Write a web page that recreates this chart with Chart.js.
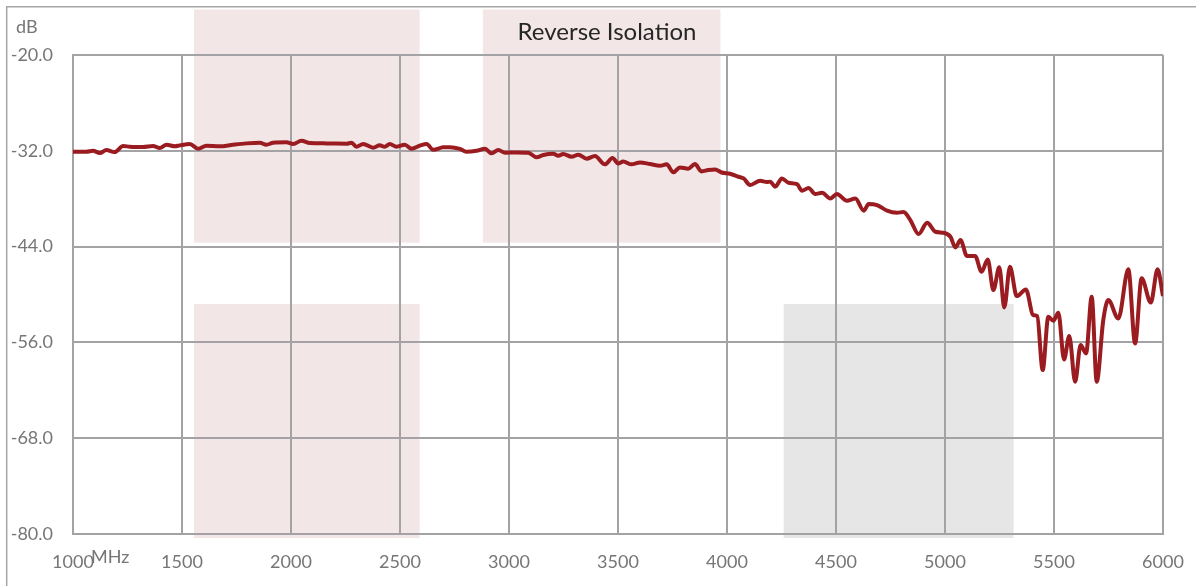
<!DOCTYPE html>
<html>
<head>
<meta charset="utf-8">
<script src="https://cdn.jsdelivr.net/npm/chart.js"></script>
<style>
    html, body { margin: 0; padding: 0; background: #ffffff; }
    #wrap { width: 1196px; height: 586px; position: relative; }
</style>
</head>
<body>
<div id="wrap"><canvas id="isolation-chart"></canvas></div>
<script>
// Frequency (MHz) and reverse isolation (dB)
const freqMHz = [
    1000, 1061, 1092, 1123, 1153, 1191, 1230, 1260, 1321, 1367, 1398, 1429, 1467, 1490,
    1536, 1574, 1612, 1673, 1734, 1796, 1857, 1887, 1918, 1979, 2010, 2048, 2086, 2163,
    2255, 2278, 2300, 2331, 2377, 2407, 2430, 2453, 2484, 2522, 2553, 2591, 2622, 2652,
    2698, 2729, 2775, 2805, 2851, 2890, 2920, 2951, 2982, 3035, 3088, 3127, 3157, 3203,
    3226, 3249, 3287, 3318, 3356, 3394, 3440, 3475, 3501, 3524, 3562, 3601, 3647, 3693,
    3723, 3754, 3784, 3822, 3853, 3883, 3914, 3945, 3975, 4014, 4053, 4076, 4106, 4152,
    4183, 4198, 4221, 4252, 4282, 4321, 4344, 4374, 4405, 4436, 4474, 4504, 4550, 4589,
    4627, 4650, 4688, 4734, 4780, 4810, 4841, 4879, 4918, 4956, 4994, 5025, 5048, 5071,
    5101, 5138, 5168, 5196, 5222, 5249, 5272, 5298, 5329, 5371, 5405, 5423, 5448, 5474,
    5497, 5520, 5546, 5570, 5597, 5622, 5647, 5673, 5696, 5726, 5749, 5795, 5841, 5872,
    5902, 5944, 5975, 6000
];
const isolationDb = [
    -32.11, -32.11, -31.99, -32.28, -31.90, -32.16, -31.40, -31.49, -31.53, -31.40, -31.65, -31.24, -31.44, -31.32,
    -31.15, -31.74, -31.36, -31.44, -31.24, -31.07, -30.99, -31.24, -30.99, -30.94, -31.15, -30.74, -31.03, -31.07,
    -31.11, -30.99, -31.49, -31.15, -31.61, -31.32, -31.49, -31.15, -31.49, -31.24, -31.74, -31.36, -31.15, -31.87,
    -31.57, -31.55, -31.76, -32.11, -31.99, -31.74, -32.32, -31.90, -32.24, -32.20, -32.24, -32.82, -32.53, -32.36,
    -32.61, -32.41, -32.74, -32.49, -32.99, -32.66, -33.70, -32.91, -33.58, -33.33, -33.70, -33.45, -33.66, -33.87,
    -33.70, -34.70, -34.08, -34.24, -33.66, -34.58, -34.41, -34.33, -34.72, -34.87, -35.25, -35.46, -36.29, -35.75,
    -35.92, -35.87, -36.50, -35.46, -36.00, -36.17, -37.00, -36.67, -37.42, -37.25, -37.96, -37.42, -38.25, -37.96,
    -39.50, -38.67, -38.80, -39.50, -39.76, -39.67, -40.68, -42.43, -41.01, -42.14, -42.27, -42.77, -44.10, -43.18,
    -45.19, -45.19, -47.15, -45.61, -49.45, -46.60, -51.62, -46.52, -50.20, -49.37, -52.58, -52.71, -59.47, -52.79,
    -53.29, -52.29, -58.14, -55.21, -60.94, -56.34, -57.38, -50.28, -60.94, -53.21, -50.70, -53.00, -46.85, -56.14,
    -47.97, -51.01, -46.85, -50.20
];

// Axis ticks
const xTickValues = [1000, 1500, 2000, 2500, 3000, 3500, 4000, 4500, 5000, 5500, 6000];
const yTickValues = [-20, -32, -44, -56, -68, -80];

// Shaded bands behind the plot (MHz / dB)
const bandFrom = [1555, 2880, 1555, 4260];
const bandTo = [2590, 3970, 2590, 5315];
const bandTopDb = [-14.3, -14.3, -51.2, -51.2];
const bandBottomDb = [-43.5, -43.5, -80.5, -80.5];
const bandKind = ['pink', 'pink', 'pink', 'gray'];

const chartTitle = 'Reverse Isolation';

const bandColors = { pink: 'rgb(243, 230, 230)', gray: 'rgb(230, 230, 230)' };
const gridColor = '#a3a3a6';
const labelColor = '#767676';

const bandsPlugin = {
    id: 'bands',
    beforeDraw(chart) {
        const { ctx, scales: { x, y } } = chart;
        ctx.save();
        for (let i = 0; i < bandFrom.length; i++) {
            const left = x.getPixelForValue(bandFrom[i]);
            const right = x.getPixelForValue(bandTo[i]);
            const top = y.getPixelForValue(bandTopDb[i]);
            const bottom = y.getPixelForValue(bandBottomDb[i]);
            ctx.fillStyle = bandColors[bandKind[i]];
            ctx.fillRect(left, top, right - left, bottom - top);
        }
        ctx.restore();
    }
};

const framePlugin = {
    id: 'frame',
    afterDraw(chart) {
        const { ctx, width, height } = chart;
        ctx.save();
        // outer border, only top and left visible
        ctx.strokeStyle = '#a6a6a6';
        ctx.lineWidth = 1.5;
        ctx.beginPath();
        ctx.moveTo(6.7, height);
        ctx.lineTo(6.7, 6.7);
        ctx.lineTo(width, 6.7);
        ctx.stroke();

        // title sits over the band, slightly left of the plot centre
        ctx.fillStyle = '#262626';
        ctx.font = '24px Lato';
        ctx.textBaseline = 'middle';
        ctx.textAlign = 'center';
        ctx.fillText(chartTitle, 607, 32);

        // unit labels
        ctx.fillStyle = labelColor;
        ctx.font = '18px Lato';
        ctx.textAlign = 'left';
        ctx.fillText('dB', 16, 27);
        ctx.fillText('MHz', 91, 557);
        ctx.restore();
    }
};

document.addEventListener('DOMContentLoaded', function() {
    const ctx = document.getElementById('isolation-chart').getContext('2d');

    new Chart(ctx, {
        type: 'line',
        data: {
            datasets: [{
                label: chartTitle,
                data: freqMHz.map((f, i) => ({ x: f, y: isolationDb[i] })),
                borderColor: 'rgb(155, 28, 32)',
                borderWidth: 4,
                pointRadius: 0,
                cubicInterpolationMode: 'monotone',
                fill: false
            }]
        },
        options: {
            responsive: true,
            maintainAspectRatio: false,
            animation: false,
            layout: {
                padding: { left: 0, right: 33, top: 55, bottom: 0 }
            },
            plugins: {
                legend: { display: false },
                tooltip: { enabled: false },
                title: { display: false }
            },
            scales: {
                x: {
                    type: 'linear',
                    min: 1000,
                    max: 6000,
                    afterBuildTicks: function(scale) {
                        scale.ticks = xTickValues.map(v => ({ value: v }));
                    },
                    afterFit: function(scale) {
                        scale.height = 52;
                        // let the last label hang into the right margin
                        scale.paddingLeft = 0;
                        scale.paddingRight = 0;
                    },
                    grid: { color: gridColor, lineWidth: 2, drawTicks: false },
                    border: { color: gridColor, width: 2 },
                    ticks: {
                        color: labelColor,
                        font: { family: 'Lato', size: 18 },
                        padding: 17,
                        maxRotation: 0,
                        autoSkip: false,
                        callback: value => String(value)
                    }
                },
                y: {
                    min: -80,
                    max: -20,
                    afterBuildTicks: function(scale) {
                        scale.ticks = yTickValues.map(v => ({ value: v }));
                    },
                    afterFit: function(scale) {
                        scale.width = 73;
                    },
                    grid: { color: gridColor, lineWidth: 2, drawTicks: false },
                    border: { color: gridColor, width: 2 },
                    ticks: {
                        color: labelColor,
                        font: { family: 'Lato', size: 18 },
                        padding: 20,
                        autoSkip: false,
                        callback: value => value.toFixed(1)
                    }
                }
            }
        },
        plugins: [bandsPlugin, framePlugin]
    });
});
</script>
</body>
</html>
